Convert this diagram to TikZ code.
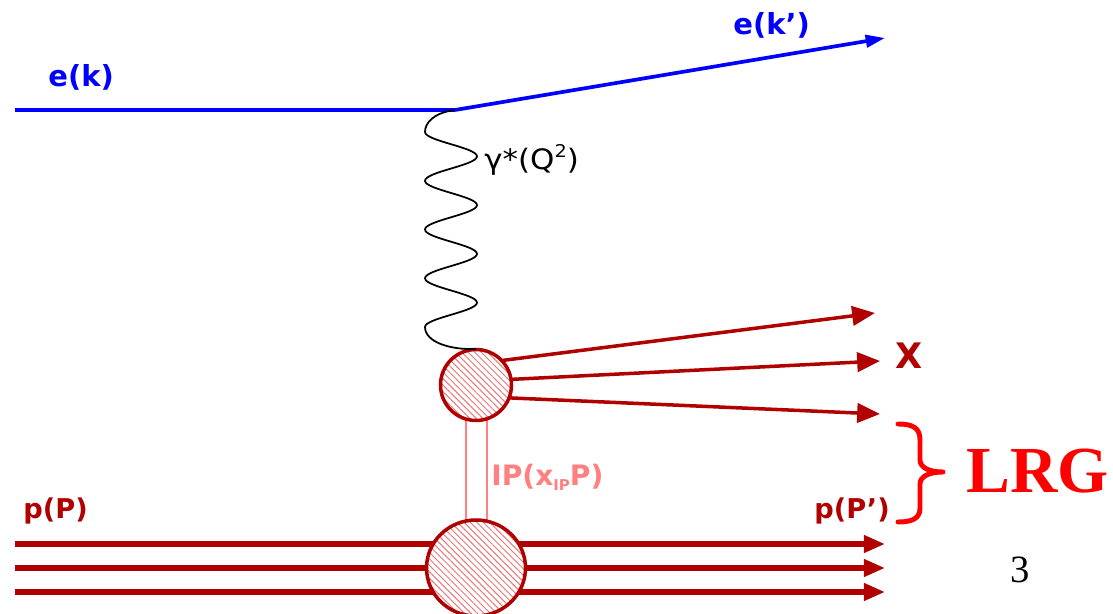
\documentclass[tikz,border=0pt]{standalone}
\usepackage{fontspec}
\usetikzlibrary{arrows.meta,shapes.geometric,patterns.meta,calc}
\newfontfamily\labfont{DejaVu Sans}
\newfontfamily\serfont{Liberation Serif}
\definecolor{eblue}{RGB}{0,0,255}
\definecolor{pred}{RGB}{176,0,0}
\definecolor{pomc}{RGB}{255,128,128}
\definecolor{hatchc}{RGB}{232,120,120}
\definecolor{lrgred}{RGB}{255,0,0}
\pgfdeclarelayer{bg}
\pgfsetlayers{bg,main}
\begin{document}
\begin{tikzpicture}[x=0.02cm,y=-0.02cm,
  elec/.style={draw=eblue, line width=2.1pt},
  hadr/.style={draw=pred, line width=2pt, -{Triangle[length=13pt,width=11pt]}},
  prot/.style={draw=pred, line width=2.9pt, -{Triangle[length=12pt,width=9.5pt]}},
  pom/.style={draw=pomc, line width=1.1pt},
  photon/.style={draw=black, line width=1pt},
  blobst/.style={draw=pred, line width=2pt, preaction={fill=white}, pattern={Lines[angle=-45, distance=2.6pt, line width=0.55pt]}, pattern color=hatchc, inner sep=0pt},
  lab/.style={inner sep=0pt, anchor=base west}
]
\begin{pgfonlayer}{bg}
\fill[white] (0,0) rectangle (1113,614);
\end{pgfonlayer}
\useasboundingbox (0,0) rectangle (1113,614);

\coordinate (ein) at (15,110);
\coordinate (v) at (455,110);
\coordinate (eout) at (885,38);
\node[circle, blobst, minimum size=1.42cm] (blob) at (476,385) {};
\node[ellipse, blobst, minimum width=1.98cm, minimum height=1.92cm] (ell) at (476,568) {};

\draw[elec] (ein) -- (v);
\draw[elec, -{Triangle[length=11pt,width=7pt]}] (v) -- (eout);

\draw[photon] (v) .. controls (432,113) and (425,124) .. (425,132)
  .. controls (425,140.9) and (477,147.5) .. (477,156.4)
  .. controls (477,165.2) and (425,171.9) .. (425,180.8)
  .. controls (425,189.6) and (477,196.3) .. (477,205.1)
  .. controls (477,214) and (425,220.6) .. (425,229.5)
  .. controls (425,238.4) and (477,245) .. (477,253.9)
  .. controls (477,262.7) and (425,269.4) .. (425,278.3)
  .. controls (425,287.1) and (477,293.8) .. (477,302.6)
  .. controls (477,311.5) and (425,318.1) .. (425,327)
  .. controls (425,342) and (450,350) .. (blob.north);

\coordinate (x1) at (875,313);
\coordinate (x2) at (880,361);
\coordinate (x3) at (880,414);
\draw[hadr] (blob.43) -- (x1);
\draw[hadr] (blob.9) -- (x2);
\draw[hadr] (blob.-21) -- (x3);

\foreach \i/\yy in {1/544,2/568,3/592}{
  \coordinate (pl\i) at (15,\yy);
  \coordinate (pr\i) at (885,\yy);
}
\begin{pgfonlayer}{bg}
\foreach \i in {1,2,3} \draw[prot] (pl\i) -- (pr\i);
\draw[pom] ($(blob.south)+(-10,-6)$) -- ($(ell.north)+(-10,5)$);
\draw[pom] ($(blob.south)+(11,-6)$) -- ($(ell.north)+(11,5)$);
\end{pgfonlayer}

\draw[lrgred, line width=2.8pt, line cap=round, line join=round]
  (898,424) .. controls (913,424) and (920,428) .. (920,440) -- (920,460)
  .. controls (920,468) and (930,472) .. (943,472)
  .. controls (930,472) and (920,476) .. (920,484) -- (920,508)
  .. controls (920,518) and (913,522) .. (898,522);

\node[lab, text=eblue, font=\labfont\bfseries\fontsize{16.5}{19}\selectfont] (lek) at (48,87) {e(k)};
\node[lab, text=eblue, font=\labfont\bfseries\fontsize{16.5}{19}\selectfont] (lekp) at (733,35) {e(k’)};
\node[lab, text=pred, font=\labfont\bfseries\fontsize{20}{24}\selectfont] (lx) at (895,369) {X};
\node[lab, text=pomc, font=\labfont\bfseries\fontsize{16}{19}\selectfont] (lpom) at (491,486) {IP(x\raisebox{-2.5pt}{\fontsize{8.5}{9}\selectfont IP}P)};
\node[lab, text=pred, font=\labfont\bfseries\fontsize{15.5}{18}\selectfont] (lpin) at (23,519) {p(P)};
\node[lab, text=pred, font=\labfont\bfseries\fontsize{15.5}{18}\selectfont] (lpout) at (814,519) {p(P’)};
\node[lab, font=\labfont\fontsize{16}{19}\selectfont] (lgam) at (484,170) {\scalebox{1.1}[1]{γ*(Q\raisebox{0.45em}{\fontsize{10}{10}\selectfont 2})}};
\node[lab, text=lrgred, font=\serfont\bfseries\fontsize{37.4}{40}\selectfont] (llrg) at (966,493) {LRG};
\node[inner sep=0pt, anchor=base, font=\serfont\fontsize{22}{26}\selectfont] (lpage) at (1020,583) {3};
\end{tikzpicture}
\end{document}
